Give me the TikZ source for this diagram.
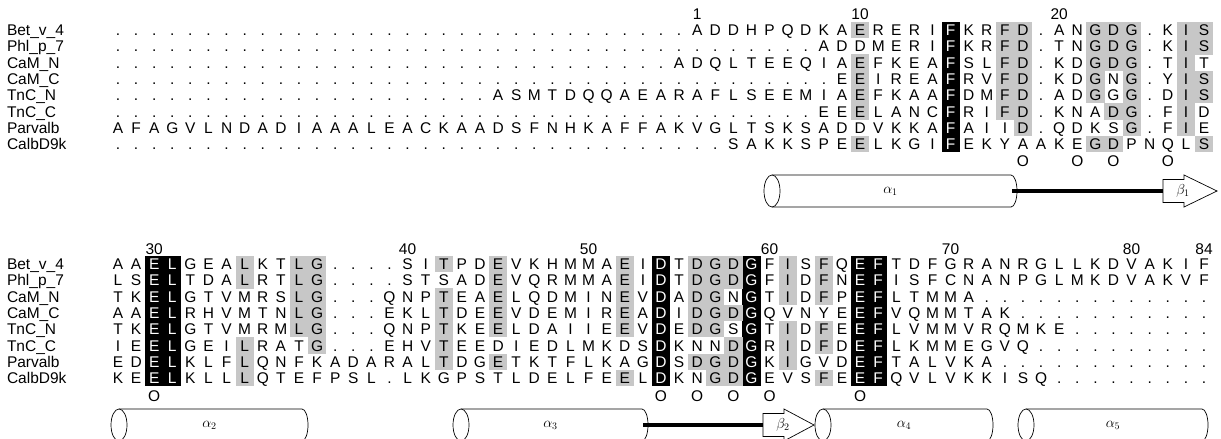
\documentclass[tikz,border=0pt]{standalone}
\usepackage{fontspec}
\setmainfont{Liberation Sans}
\newcounter{colc}
\def\baset{30}
\def\baseb{264}
\def\curblk{t}
\def\currow{1}
\newcommand\setblack[2]{\expandafter\def\csname blk-#1-#2\endcsname{}}
\newcommand\placeres[1]{%
  \pgfmathsetmacro\resx{118+18.1*(\arabic{colc}-1)}%
  \pgfmathsetmacro\resy{\csname base\curblk\endcsname+16.3*(\currow-1)+5.5}%
  \ifcsname blk-\curblk-\arabic{colc}\endcsname
    \node[res,text=white] (\curblk\currow c\arabic{colc}) at (\resx,\resy) {#1};%
  \else
    \node[res] (\curblk\currow c\arabic{colc}) at (\resx,\resy) {#1};%
  \fi}
\newcommand\putdots[1]{\ifnum#1>0 \foreach\k in {1,...,#1}{\stepcounter{colc}\placeres{.}}\fi}
\def\seqloop#1{\ifx\relax#1\else\stepcounter{colc}\placeres{#1}\expandafter\seqloop\fi}
\newcommand\seqrow[5]{%
  \def\curblk{#1}\def\currow{#2}\setcounter{colc}{0}%
  \putdots{#3}\seqloop#4\relax\putdots{#5}%
  \ifnum\value{colc}=61 \else\errmessage{Row #1 #2 has \arabic{colc} columns}\fi}
\newcommand\blackcol[2]{\setblack{#1}{#2}%
  \fill[black] ({118+18.1*(#2-1)-9.1},{\csname base#1\endcsname-8.15}) rectangle ++(18.2,{8*16.3});}
\newcommand\shadecells[3]{\foreach \r in {#3}{%
  \fill[shd] ({118+18.1*(#2-1)-9.1},{\csname base#1\endcsname+16.3*(\r-1)-8.2}) rectangle ++(18.2,16.4);}}
\newcommand\helixcyl[5]{%
  \fill[white] (#2+8,#4-16) rectangle (#3-6,#4+16);
  \draw[ss] (#2+8,#4-16) -- (#3-6,#4-16) arc[start angle=-90,end angle=90,x radius=6,y radius=16] -- (#2+8,#4+16);
  \draw[ss,fill=white] (#2+8,#4) ellipse [x radius=8,y radius=16];
  \node[hlab] (#1) at ({(#2+#3)/2},#4) {#5};}
\newcommand\strand[5]{%
  \draw[ss,fill=white] (#2,#4-11.5) -- (#2+21,#4-11.5) -- (#2+21,#4-16) -- (#3,#4) -- (#2+21,#4+16) -- (#2+21,#4+11.5) -- (#2,#4+11.5) -- cycle;
  \node[hlab] (#1) at (#2+20,#4) {#5};}
\begin{document}
\begin{tikzpicture}[x=1pt,y=-1pt,
  res/.style={font=\fontsize{15.5}{16}\selectfont,inner sep=0pt,outer sep=0pt,anchor=base},
  lab/.style={res,anchor=base west},
  shd/.style={fill=black!22},
  ss/.style={draw=black,line width=0.7pt},
  hlab/.style={font=\fontsize{14}{15}\selectfont,inner sep=0pt},
  loopline/.style={line width=4pt}]
\useasboundingbox (0,0) rectangle (1221,439);
\fill[white] (0,0) rectangle (1221,439);
% ---------- top block shading
\blackcol{t}{47}
\shadecells{t}{42}{1,3,4,5,6,8}
\shadecells{t}{50}{1,2,3,4,5,6}
\shadecells{t}{51}{1,2,3,4,5,6,7}
\shadecells{t}{55}{1,2,3,4,5,8}
\shadecells{t}{56}{1,2,3,6,8}
\shadecells{t}{57}{1,2,3,4,5,6,7}
\shadecells{t}{60}{1,2,3,4,5,6,7}
\shadecells{t}{61}{1,2,4,5,8}
% ---------- bottom block shading
\blackcol{b}{3}\blackcol{b}{4}\blackcol{b}{31}\blackcol{b}{36}\blackcol{b}{42}\blackcol{b}{43}
\shadecells{b}{8}{1,2,6,7,8}
\shadecells{b}{11}{1,2,3,4,5}
\shadecells{b}{12}{1,2,3,4,5,6}
\shadecells{b}{19}{1,3,4,5,6,7}
\shadecells{b}{22}{1,2,3,4,5,7}
\shadecells{b}{29}{1,2,3,4,5,8}
\shadecells{b}{33}{1,2,3,4,5,7}
\shadecells{b}{34}{1,2,3,4,5,7,8}
\shadecells{b}{35}{1,2,4,6,7,8}
\shadecells{b}{38}{1,2,3,5,6,7}
\shadecells{b}{40}{1,2,3,5,6,8}
% ---------- labels
\foreach \nm [count=\i] in {Bet\_v\_4,Phl\_p\_7,CaM\_N,CaM\_C,TnC\_N,TnC\_C,Parvalb,CalbD9k}{
  \node[lab] (lt\i) at (7,{\baset+16.3*(\i-1)+5.5}) {\nm};
  \node[lab] (lb\i) at (7,{\baseb+16.3*(\i-1)+5.5}) {\nm};
}
% ---------- top sequences
\seqrow{t}{1}{32}{ADDHPQDKAERERIFKRFD.ANGDG.KIS}{0}
\seqrow{t}{2}{39}{ADDMERIFKRFD.TNGDG.KIS}{0}
\seqrow{t}{3}{31}{ADQLTEEQIAEFKEAFSLFD.KDGDG.TIT}{0}
\seqrow{t}{4}{40}{EEIREAFRVFD.KDGNG.YIS}{0}
\seqrow{t}{5}{21}{ASMTDQQAEARAFLSEEMIAEFKAAFDMFD.ADGGG.DIS}{0}
\seqrow{t}{6}{39}{EEELANCFRIFD.KNADG.FID}{0}
\seqrow{t}{7}{0}{AFAGVLNDADIAAALEACKAADSFNHKAFFAKVGLTSKSADDVKKAFAIID.QDKSG.FIE}{0}
\seqrow{t}{8}{34}{SAKKSPEELKGIFEKYAAKEGDPNQLS}{0}
% ---------- bottom sequences
\seqrow{b}{1}{0}{AAELGEALKTLG....SITPDEVKHMMAEIDTDGDGFISFQEFTDFGRANRGLLKDVAKIF}{0}
\seqrow{b}{2}{0}{LSELTDALRTLG....STSADEVQRMMAEIDTDGDGFIDFNEFISFCNANPGLMKDVAKVF}{0}
\seqrow{b}{3}{0}{TKELGTVMRSLG...QNPTEAELQDMINEVDADGNGTIDFPEFLTMMA}{13}
\seqrow{b}{4}{0}{AAELRHVMTNLG...EKLTDEEVDEMIREADIDGDGQVNYEEFVQMMTAK}{11}
\seqrow{b}{5}{0}{TKELGTVMRMLG...QNPTKEELDAIIEEVDEDGSGTIDFEEFLVMMVRQMKE}{8}
\seqrow{b}{6}{0}{IEELGEILRATG...EHVTEEDIEDLMKDSDKNNDGRIDFDEFLKMMEGVQ}{10}
\seqrow{b}{7}{0}{EDELKLFLQNFKADARALTDGETKTFLKAGDSDGDGKIGVDEFTALVKA}{12}
\seqrow{b}{8}{0}{KEELKLLLQTEFPSL.LKGPSTLDELFEELDKNGDGEVSFEEFQVLVKKISQ}{9}
% ---------- residue numbers
\foreach \c/\t in {33/1,42/10,53/20}{\node[res] (nt\t) at ({118+18.1*(\c-1)},19.5) {\t};}
\foreach \c/\t in {3/30,17/40,27/50,37/60,47/70,57/80,61/84}{\node[res] (nb\t) at ({118+18.1*(\c-1)},254.5) {\t};}
% ---------- calcium ligand marks
\foreach \c in {51,54,56,59}{\node[res] (ot\c) at ({118+18.1*(\c-1)},166.5) {O};}
\foreach \c in {3,31,33,35,37,42}{\node[res] (ob\c) at ({118+18.1*(\c-1)},401.5) {O};}
% ---------- secondary structure
\coordinate (l1a) at (1012,191); \coordinate (l1b) at (1165,191);
\draw[loopline] (l1a) -- (l1b);
\coordinate (l2a) at (643,425); \coordinate (l2b) at (765,425);
\draw[loopline] (l2a) -- (l2b);
\helixcyl{a1}{764}{1017}{191}{$\alpha_{1}$}
\strand{b1}{1163}{1217}{191}{$\beta_{1}$}
\helixcyl{a2}{111}{308}{425}{$\alpha_{2}$}
\helixcyl{a3}{453}{648}{425}{$\alpha_{3}$}
\strand{b2}{763}{814}{425}{$\beta_{2}$}
\helixcyl{a4}{815}{993}{425}{$\alpha_{4}$}
\helixcyl{a5}{1018}{1208}{425}{$\alpha_{5}$}
\end{tikzpicture}
\end{document}
